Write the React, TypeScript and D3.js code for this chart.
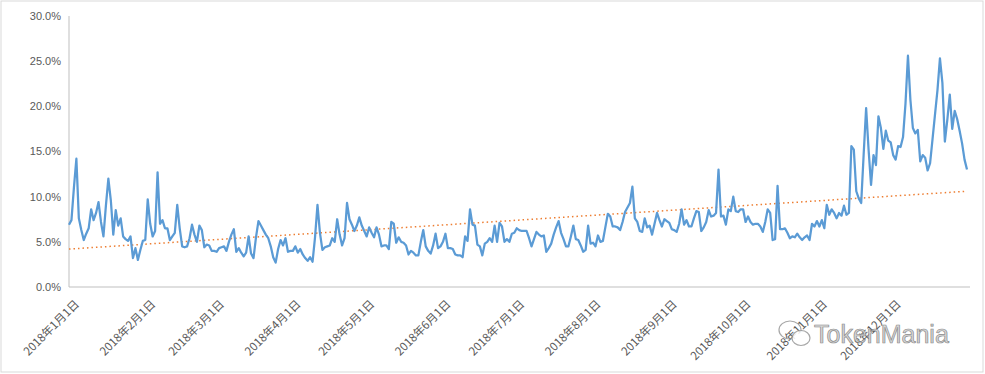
import React, { useEffect, useRef } from 'react';
import * as d3 from 'd3';

// daily share (%), one array per month
const jan = [6.9, 7.4, 11.0, 14.2, 7.6, 6.3, 5.2, 5.9, 6.5, 8.6, 7.4, 8.2, 9.4, 7.2, 5.6, 9.0, 12.0, 9.6, 5.8, 8.5, 6.8, 7.6, 5.6, 5.3, 5.1, 5.6, 3.2, 4.3, 3.0, 4.1, 5.1];
const feb = [5.2, 9.7, 7.0, 5.6, 6.2, 12.7, 7.0, 7.4, 6.5, 6.5, 5.2, 5.6, 6.0, 9.1, 6.5, 4.5, 4.4, 4.5, 5.4, 6.9, 5.8, 5.0, 6.8, 6.3, 4.4, 4.7, 4.6, 4.0];
const mar = [4.0, 3.9, 4.3, 4.4, 4.5, 4.0, 5.0, 5.8, 6.4, 3.9, 4.3, 3.8, 3.4, 3.8, 5.6, 3.7, 3.2, 5.5, 7.3, 6.8, 6.3, 5.8, 5.4, 4.5, 3.3, 2.7, 4.2, 5.2, 4.6, 5.4, 3.9];
const apr = [4.0, 4.0, 4.5, 3.8, 4.2, 3.6, 3.2, 2.9, 3.3, 2.8, 5.5, 9.1, 6.0, 4.1, 4.4, 4.5, 4.6, 5.4, 5.0, 7.5, 5.8, 4.6, 5.4, 9.3, 7.5, 6.9, 6.2, 6.8, 7.7, 6.8];
const may = [6.2, 5.6, 6.6, 6.0, 5.5, 6.6, 5.8, 4.5, 4.6, 4.6, 4.2, 7.2, 7.0, 4.9, 5.5, 5.0, 4.9, 4.6, 3.6, 4.0, 3.8, 3.5, 3.5, 5.0, 6.3, 4.5, 4.0, 3.7, 4.6, 5.9, 4.3];
const jun = [4.5, 5.0, 5.9, 4.3, 4.3, 4.2, 3.6, 3.5, 3.5, 3.3, 5.6, 5.1, 8.6, 6.9, 6.8, 4.7, 4.5, 3.5, 4.8, 5.0, 5.4, 5.0, 6.8, 5.0, 7.1, 6.7, 5.0, 5.3, 5.0, 5.9];
const jul = [6.0, 6.5, 6.3, 6.2, 6.2, 6.2, 5.4, 4.5, 5.3, 6.1, 5.8, 5.6, 5.7, 3.9, 4.3, 4.8, 5.8, 6.6, 7.3, 6.0, 5.3, 4.5, 4.5, 5.6, 6.8, 5.3, 5.2, 4.6, 3.9, 4.1, 6.8];
const aug = [4.8, 4.9, 4.5, 5.7, 5.0, 5.1, 6.6, 8.1, 7.8, 6.7, 6.7, 6.6, 6.3, 7.2, 8.3, 8.8, 9.3, 11.1, 7.6, 7.2, 6.2, 6.1, 7.6, 6.6, 6.8, 5.8, 7.0, 8.2, 7.4, 6.7, 7.5];
const sep = [7.3, 7.1, 6.4, 6.3, 6.1, 7.0, 8.6, 6.9, 7.4, 6.7, 6.7, 7.6, 8.4, 8.3, 6.2, 6.6, 7.2, 8.5, 7.8, 7.9, 8.2, 13.0, 7.8, 7.9, 6.9, 8.6, 8.4, 10.0, 8.4, 8.3];
const oct = [8.6, 8.6, 7.2, 7.8, 7.2, 6.9, 7.0, 7.0, 6.7, 6.1, 7.2, 8.6, 8.2, 5.2, 5.3, 11.2, 6.4, 6.4, 6.5, 6.0, 5.4, 5.6, 5.5, 5.9, 5.5, 5.2, 5.5, 5.7, 5.2, 7.0, 6.7];
const nov = [7.3, 6.7, 7.4, 6.5, 9.1, 8.0, 8.6, 8.2, 7.6, 8.2, 7.9, 9.0, 8.0, 8.2, 15.6, 15.2, 10.6, 9.8, 9.3, 14.7, 19.8, 15.2, 11.3, 14.6, 13.5, 18.9, 17.6, 15.3, 17.3, 16.2];
const dec = [16.0, 14.6, 14.1, 15.6, 15.5, 16.6, 20.3, 25.6, 20.7, 17.6, 17.0, 17.4, 13.9, 14.6, 14.3, 12.9, 13.7, 16.4, 19.1, 21.8, 25.3, 22.6, 16.1, 18.5, 21.3, 17.5, 19.5, 18.6, 17.3, 15.9, 14.1];
const jan2019 = [13.0];

// trendline as drawn in the picture: value at first and last day
const trend = [4.2, 10.6];

const yTicks = [0, 5, 10, 15, 20, 25, 30];
const monthLabels = [
  '2018年1月1日', '2018年2月1日', '2018年3月1日', '2018年4月1日',
  '2018年5月1日', '2018年6月1日', '2018年7月1日', '2018年8月1日',
  '2018年9月1日', '2018年10月1日', '2018年11月1日', '2018年12月1日',
];

const W = 985;
const H = 374;

function App() {
  const ref = useRef<SVGSVGElement>(null);

  useEffect(() => {
    const svg = d3.select(ref.current);
    svg.selectAll('*').remove();

    const values = [jan, feb, mar, apr, may, jun, jul, aug, sep, oct, nov, dec, jan2019].flat();
    const start = new Date(Date.UTC(2018, 0, 1));
    const data = values.map((v, i) => ({ date: d3.utcDay.offset(start, i), v }));
    const last = data[data.length - 1].date;

    const x = d3.scaleUtc()
      .domain([start, last])
      .range([69, 967]);
    const y = d3.scaleLinear().domain([0, 30]).range([287, 16]);

    // outer frame
    svg.append('rect')
      .attr('x', 1).attr('y', 1)
      .attr('width', 982).attr('height', 371)
      .attr('fill', 'white')
      .attr('stroke', '#d9d9d9');

    // axes lines
    svg.append('line')
      .attr('x1', 69).attr('x2', 69)
      .attr('y1', y(30)).attr('y2', y(0))
      .attr('stroke', '#bfbfbf');
    svg.append('line')
      .attr('x1', 69).attr('x2', 970)
      .attr('y1', y(0)).attr('y2', y(0))
      .attr('stroke', '#bfbfbf');

    // y labels
    svg.append('g')
      .selectAll('text')
      .data(yTicks)
      .enter()
      .append('text')
      .attr('x', 61)
      .attr('y', (d) => y(d))
      .attr('dy', '0.35em')
      .attr('text-anchor', 'end')
      .attr('font-family', 'Liberation Sans, Arial, sans-serif')
      .attr('font-size', 11)
      .attr('fill', '#595959')
      .text((d) => d.toFixed(1) + '%');

    // x labels, rotated
    svg.append('g')
      .selectAll('text')
      .data(monthLabels)
      .enter()
      .append('text')
      .attr('transform', (d, i) => `translate(${x(new Date(Date.UTC(2018, i, 1))) + 8},${y(0) + 15}) rotate(-45)`)
      .attr('text-anchor', 'end')
      .attr('dy', '0.35em')
      .attr('font-family', 'Noto Sans CJK SC, sans-serif')
      .attr('font-size', 11.5)
      .attr('fill', '#595959')
      .text((d) => d);

    // dotted linear trendline
    svg.append('line')
      .attr('x1', x(start)).attr('y1', y(trend[0]))
      .attr('x2', x(last)).attr('y2', y(trend[1]))
      .attr('stroke', '#ed7d31')
      .attr('stroke-width', 1.5)
      .attr('stroke-dasharray', '1.5 3');

    const line = d3.line<{ date: Date; v: number }>()
      .x((d) => x(d.date))
      .y((d) => y(d.v));

    svg.append('path')
      .datum(data)
      .attr('fill', 'none')
      .attr('stroke', '#5b9bd5')
      .attr('stroke-width', 2.25)
      .attr('stroke-linejoin', 'round')
      .attr('d', line);

    // watermark
    const wm = svg.append('g').attr('opacity', 0.85);
    wm.append('ellipse')
      .attr('cx', 790).attr('cy', 330).attr('rx', 11).attr('ry', 9)
      .attr('fill', 'none').attr('stroke', '#999').attr('stroke-width', 1.2);
    wm.append('ellipse')
      .attr('cx', 801).attr('cy', 338).attr('rx', 9).attr('ry', 7.5)
      .attr('fill', 'white').attr('stroke', '#999').attr('stroke-width', 1.2);
    wm.append('text')
      .attr('x', 814).attr('y', 343)
      .attr('font-family', 'Liberation Sans, Arial, sans-serif')
      .attr('font-size', 25)
      .attr('fill', '#d0d0d0')
      .attr('stroke', '#777')
      .attr('stroke-width', 0.7)
      .text('TokenMania');
  }, []);

  return (
    <svg ref={ref} width={W} height={H} style={{ position: 'absolute', left: 0, top: 0, background: 'white' }} />
  );
}

export default App;
